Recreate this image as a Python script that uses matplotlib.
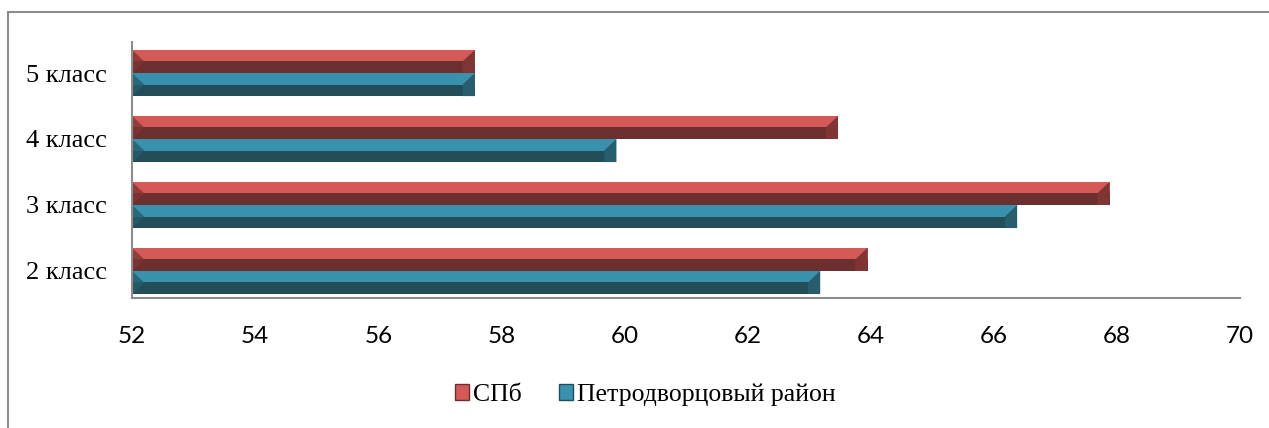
import matplotlib
matplotlib.use("Agg")
import matplotlib.pyplot as plt
import numpy as np
from matplotlib.patches import Patch, Polygon
from matplotlib.lines import Line2D

# --- data -------------------------------------------------------------------
classes = ["2 класс", "3 класс", "4 класс", "5 класс"]
spb = [63.95, 67.88, 63.47, 57.57]
petro = [63.18, 66.38, 59.87, 57.57]
series_names = ["СПб", "Петродворцовый район"]
xticks = [52, 54, 56, 58, 60, 62, 64, 66, 68, 70]

# --- style ------------------------------------------------------------------
RED_LIGHT, RED_DARK, RED_CAP = "#D35A57", "#6B2F2F", "#7E3534"
TEAL_LIGHT, TEAL_DARK, TEAL_CAP = "#3992AD", "#234D59", "#275D6D"
AXIS_GRAY = "#8C8C8C"
SERIF = ["Liberation Serif", "DejaVu Serif"]
SANS = ["Lato", "DejaVu Sans"]

X0 = 52
BAR_H = 0.35
CAP_W = 0.2


def bevel_bars(ax, y, values, light, dark, cap):
    """Two-tone bar (light top half, dark bottom half) with end facets."""
    ax.barh(y, np.array(values) - X0, left=X0, height=BAR_H,
            color=light, linewidth=0)
    ax.barh(y - BAR_H / 4, np.array(values) - X0, left=X0, height=BAR_H / 2,
            color=dark, linewidth=0)
    for yc, v in zip(y, values):
        top, bot = yc + BAR_H / 2, yc - BAR_H / 2
        ax.add_patch(Polygon([(v, top), (v - CAP_W, yc), (v - CAP_W, bot), (v, bot)],
                             closed=True, color=cap, linewidth=0))
        ax.add_patch(Polygon([(X0, top), (X0 + CAP_W, yc), (X0, bot)],
                             closed=True, color=cap, linewidth=0, alpha=0.8))


fig = plt.figure(figsize=(12.69, 4.28), dpi=100)
ax = fig.add_axes([132 / 1269, 1 - 298 / 428, (1240 - 132) / 1269, (298 - 42) / 428])

y = np.arange(len(classes))
bevel_bars(ax, y + BAR_H / 2, spb, RED_LIGHT, RED_DARK, RED_CAP)
bevel_bars(ax, y - BAR_H / 2, petro, TEAL_LIGHT, TEAL_DARK, TEAL_CAP)

ax.set_xlim(52, 70)
ax.set_ylim(-0.41, 3.47)
ax.set_xticks(xticks)
ax.set_xticklabels([str(t) for t in xticks], family=SANS, fontsize=17.5)
ax.set_yticks(y)
ax.set_yticklabels(classes, family=SERIF, fontsize=19)
ax.tick_params(axis="x", length=0, pad=20)
ax.tick_params(axis="y", length=0, pad=18)
for spine in ("top", "right"):
    ax.spines[spine].set_visible(False)
for spine in ("left", "bottom"):
    ax.spines[spine].set_color(AXIS_GRAY)
    ax.spines[spine].set_linewidth(1.5)

# outer chart frame (only left and top edges are inside the crop)
fig.add_artist(Line2D([8 / 1269, 8 / 1269], [0, 1 - 12 / 428],
                      transform=fig.transFigure, color=AXIS_GRAY, lw=1.5))
fig.add_artist(Line2D([8 / 1269, 1], [1 - 12 / 428, 1 - 12 / 428],
                      transform=fig.transFigure, color=AXIS_GRAY, lw=1.5))

handles = [Patch(facecolor=RED_LIGHT, edgecolor=RED_DARK, label=series_names[0]),
           Patch(facecolor=TEAL_LIGHT, edgecolor=TEAL_DARK, label=series_names[1])]
fig.legend(handles=handles, loc="center", bbox_to_anchor=(645 / 1269, 1 - 395 / 428),
           ncol=2, frameon=False, prop={"family": SERIF, "size": 18.5},
           handlelength=0.55, handleheight=0.55, handletextpad=0.15, columnspacing=1.45)

fig.savefig("out.png", dpi=100)
